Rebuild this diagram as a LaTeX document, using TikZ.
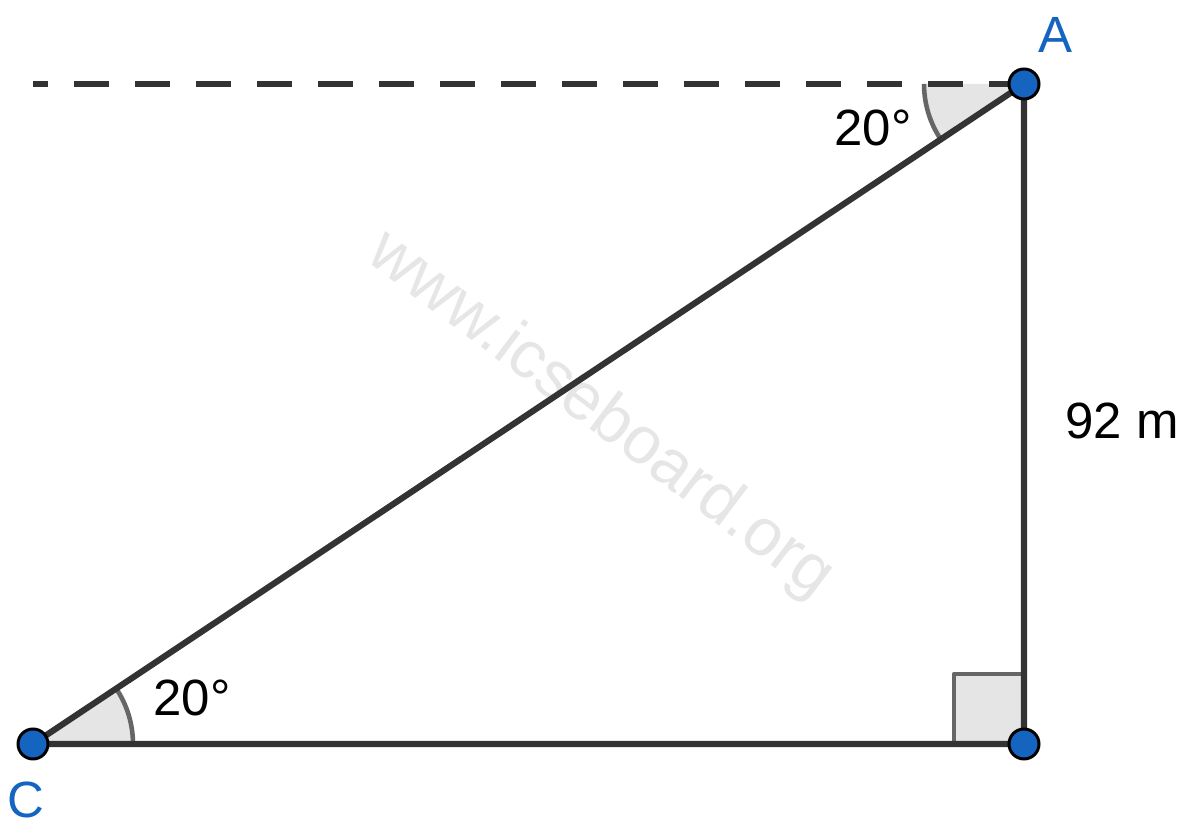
\documentclass[tikz,border=0pt]{standalone}
\usepackage{fontspec}
\setmainfont{Liberation Sans}
\usetikzlibrary{positioning,angles,backgrounds}
\definecolor{ptblue}{HTML}{1565C0}
\definecolor{edgegray}{HTML}{333333}
\definecolor{arcgray}{HTML}{666666}
\definecolor{angfill}{HTML}{E5E5E5}
\definecolor{wmgray}{HTML}{E6E6E6}

\begin{document}
\begin{tikzpicture}[x=0.02cm,y=0.02cm,
			pt/.style={circle,draw=black,line width=1.7pt,fill=ptblue,inner sep=0pt,minimum size=0.6cm},
			side/.style={draw=edgegray,line width=3.5pt},
			horizon/.style={side,dash pattern=on 0.7cm off 0.52cm},
			ang/.style={draw=arcgray,line width=2.6pt,fill=angfill,angle radius=2cm},
			txt/.style={font=\fontsize{29}{35}\selectfont},
			ptlabel/.style={txt,text=ptblue}]
			\useasboundingbox (0,0) rectangle (1194,827);
			\node (A) [pt] at (1024,743) {};
			\node (B) [pt] at (1024,83) {};
			\node (C) [pt] at (33,83) {};
			\coordinate (L) at (33,743);
			\node (labA) [ptlabel] at (1055,792) {A};
			\node (labC) [ptlabel] at (26,27) {C};
			\node (height) [txt] at (1122,406) {92 m};
			\node (angA) [txt] at (873,699) {20°};
			\node (angC) [txt] at (192,129) {20°};
			\begin{scope}[on background layer]
				\node (wm) [txt,text=wmgray,rotate=-37,font=\fontsize{38}{44}\selectfont] at (600,412) {www.icseboard.org};
				\pic [ang] {angle=L--A--C};
				\pic [ang] {angle=B--C--A};
				\draw [draw=arcgray,line width=2.6pt,fill=angfill,line join=round] (B.center) ++(-70,0) rectangle ++(70,70);
				\draw [horizon] (A.center) -- (L);
				\draw [side] (C.center) -- (A.center) -- (B.center) -- cycle;
			\end{scope}
		\end{tikzpicture}
\end{document}
